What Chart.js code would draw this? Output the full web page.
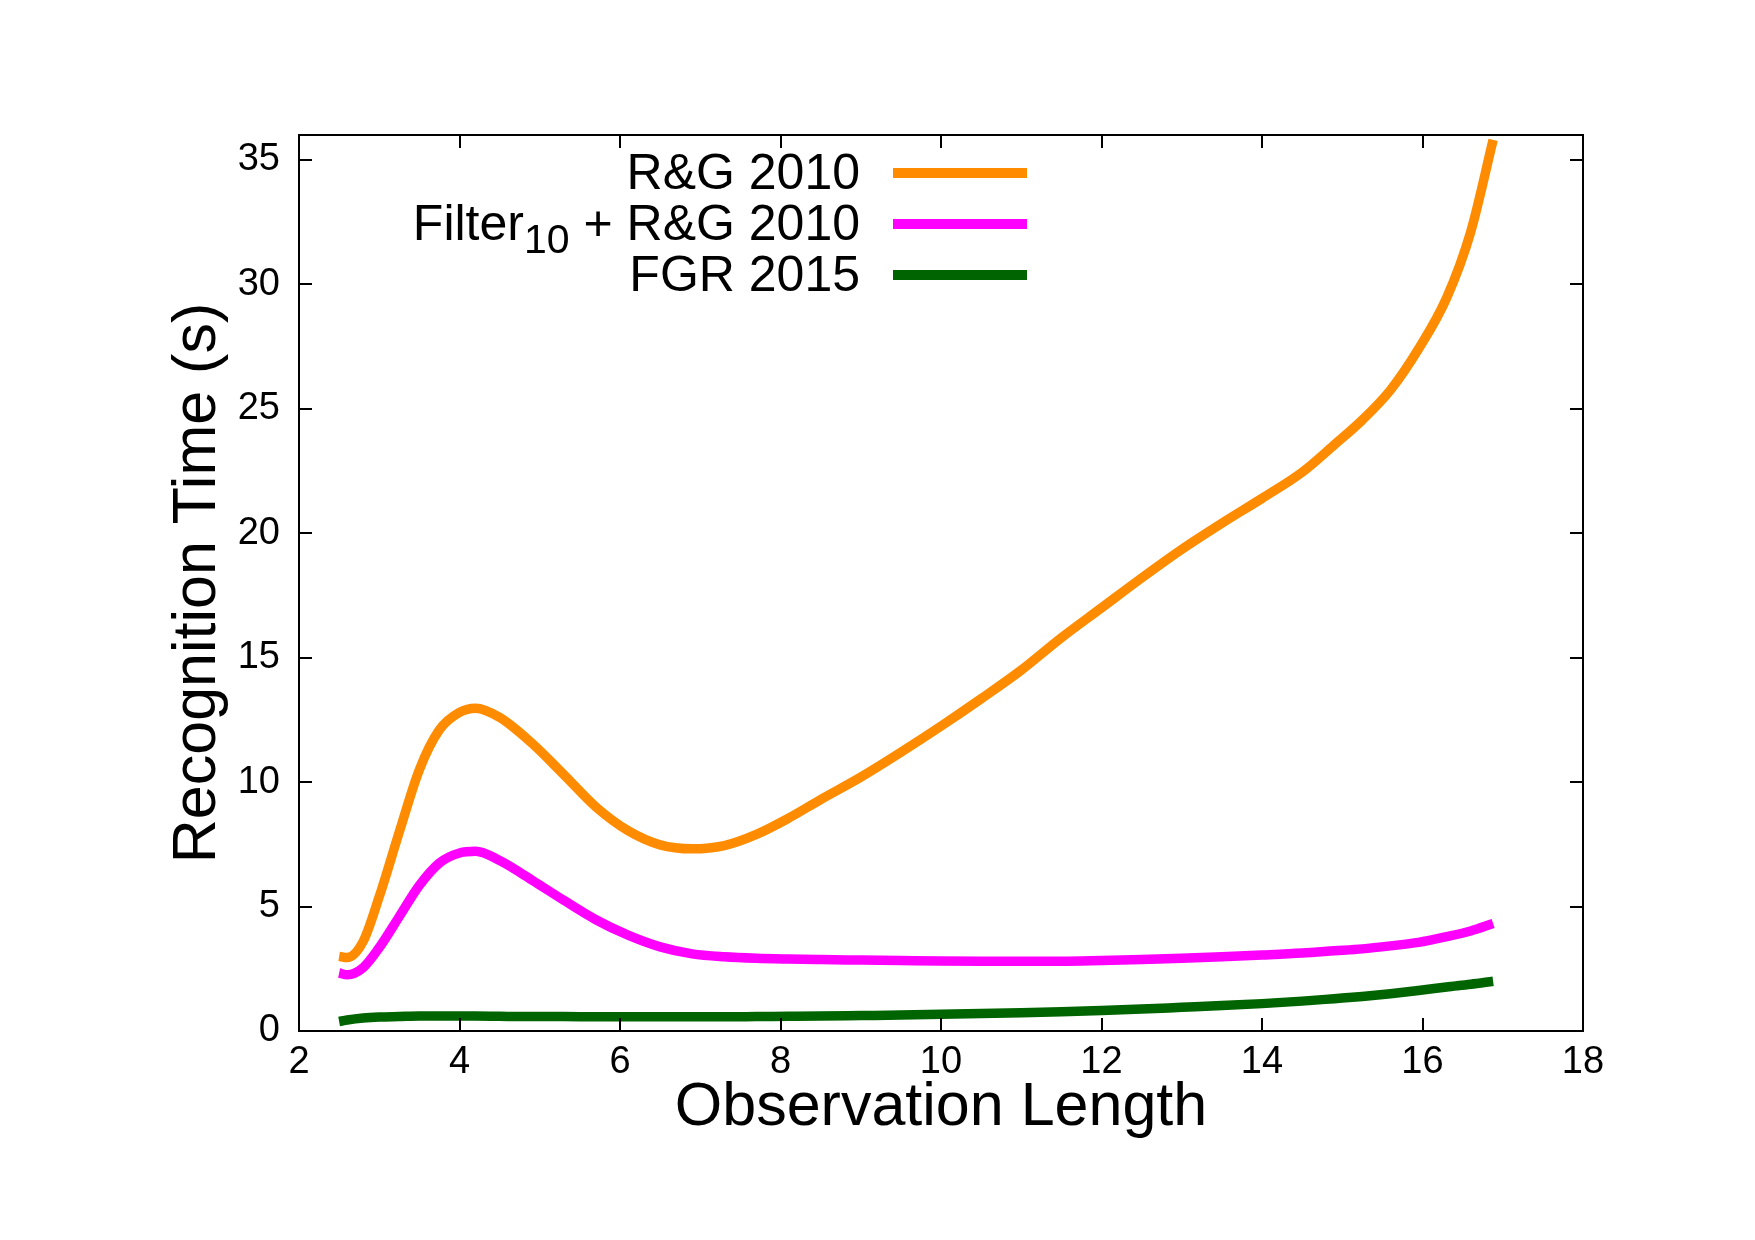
<!DOCTYPE html>
<html>
<head>
<meta charset="utf-8">
<script src="https://cdn.jsdelivr.net/npm/chart.js@4/dist/chart.umd.min.js"></script>
<style>
  html, body { margin: 0; padding: 0; background: #ffffff; }
  #wrap { width: 1755px; height: 1240px; }
  canvas { display: block; }
</style>
</head>
<body>
<div id="wrap"><canvas id="c" width="1755" height="1240"></canvas></div>
<script>
// ---- data ----
const xValues   = [2.5, 2.6, 2.8, 3.0, 3.25, 3.5, 3.75, 4.0, 4.2, 4.5, 4.9, 5.3, 5.7, 6.1, 6.5, 6.9, 7.3, 7.7, 8.1, 8.5, 9.0, 9.5, 10.0, 10.5, 11.0, 11.5, 12.0, 12.5, 13.0, 13.5, 14.0, 14.5, 14.9, 15.25, 15.6, 15.95, 16.3, 16.6, 16.88];
const rg2010    = [3.0, 2.95, 3.6, 5.4, 8.0, 10.5, 12.1, 12.8, 12.97, 12.6, 11.57, 10.3, 9.0, 8.05, 7.48, 7.32, 7.45, 7.9, 8.55, 9.3, 10.2, 11.2, 12.25, 13.35, 14.5, 15.8, 17.0, 18.2, 19.35, 20.4, 21.4, 22.45, 23.55, 24.55, 25.75, 27.4, 29.45, 32.1, 35.8];
const filterRg  = [2.33, 2.26, 2.55, 3.35, 4.6, 5.85, 6.75, 7.15, 7.22, 6.85, 6.07, 5.25, 4.47, 3.85, 3.38, 3.1, 2.98, 2.92, 2.89, 2.87, 2.85, 2.83, 2.81, 2.8, 2.8, 2.8, 2.83, 2.87, 2.92, 2.98, 3.05, 3.13, 3.22, 3.3, 3.42, 3.56, 3.79, 4.02, 4.32];
const fgr2015   = [0.38, 0.44, 0.52, 0.56, 0.58, 0.6, 0.6, 0.6, 0.6, 0.59, 0.58, 0.58, 0.57, 0.57, 0.57, 0.57, 0.57, 0.58, 0.59, 0.6, 0.62, 0.64, 0.67, 0.7, 0.73, 0.77, 0.82, 0.88, 0.95, 1.02, 1.1, 1.2, 1.3, 1.39, 1.5, 1.63, 1.77, 1.88, 2.0];
const seriesLabels = ['R&G 2010', 'Filter_{10} + R&G 2010', 'FGR 2015'];
const seriesColors = ['#ff8c00', '#ff00ff', '#006400'];
const xTicks = [2, 4, 6, 8, 10, 12, 14, 16, 18];
const yTicks = [0, 5, 10, 15, 20, 25, 30, 35];
const xTitle = 'Observation Length';
const yTitle = 'Recognition Time (s)';

const FONT = "'Liberation Sans', Arial, Helvetica, sans-serif";

function toPoints(ys) { return xValues.map((x, i) => ({ x: x, y: ys[i] })); }

const seriesValues = [rg2010, filterRg, fgr2015];
const datasets = seriesValues.map((vals, i) => ({
  label: seriesLabels[i],
  data: toPoints(vals),
  borderColor: seriesColors[i],
  backgroundColor: seriesColors[i],
  borderWidth: 9.5,
  pointRadius: 0,
  fill: false,
  cubicInterpolationMode: 'monotone',
  borderCapStyle: 'butt',
  borderJoinStyle: 'round'
}));

// frame with inward ticks on all four sides
const framePlugin = {
  id: 'frame',
  afterDraw(chart) {
    const ctx = chart.ctx;
    const a = chart.chartArea;
    const xs = chart.scales.x, ys = chart.scales.y;
    const tl = 13;
    ctx.save();
    ctx.strokeStyle = '#000';
    ctx.lineWidth = 2;
    ctx.beginPath();
    xTicks.forEach(v => {
      const p = Math.round(xs.getPixelForValue(v));
      ctx.moveTo(p, a.bottom); ctx.lineTo(p, a.bottom - tl);
      ctx.moveTo(p, a.top); ctx.lineTo(p, a.top + tl);
    });
    yTicks.forEach(v => {
      const p = Math.round(ys.getPixelForValue(v));
      ctx.moveTo(a.left, p); ctx.lineTo(a.left + tl, p);
      ctx.moveTo(a.right, p); ctx.lineTo(a.right - tl, p);
    });
    ctx.stroke();
    ctx.strokeRect(a.left, a.top, a.right - a.left, a.bottom - a.top);
    ctx.restore();
  }
};

// legend with subscript support, text right-aligned left of the sample line
function parseLabel(s) {
  const parts = [];
  const re = /_\{([^}]*)\}/g;
  let last = 0, m;
  while ((m = re.exec(s)) !== null) {
    if (m.index > last) parts.push({ t: s.slice(last, m.index), sub: false });
    parts.push({ t: m[1], sub: true });
    last = re.lastIndex;
  }
  if (last < s.length) parts.push({ t: s.slice(last), sub: false });
  return parts;
}

const legendPlugin = {
  id: 'customLegend',
  afterDraw(chart) {
    const ctx = chart.ctx;
    const textRight = 860;
    const lineX0 = 893, lineX1 = 1027;
    const base0 = 189, rowGap = 51;
    const mainSize = 50, subSize = 41, subDrop = 13;
    ctx.save();
    ctx.textBaseline = 'alphabetic';
    ctx.textAlign = 'left';
    ctx.fillStyle = '#000';
    chart.data.datasets.forEach((ds, i) => {
      const baseline = base0 + i * rowGap;
      const parts = parseLabel(ds.label);
      let total = 0;
      parts.forEach(p => {
        ctx.font = (p.sub ? subSize : mainSize) + 'px ' + FONT;
        p.w = ctx.measureText(p.t).width;
        total += p.w;
      });
      let x = textRight - total;
      parts.forEach(p => {
        ctx.font = (p.sub ? subSize : mainSize) + 'px ' + FONT;
        ctx.fillText(p.t, x, baseline + (p.sub ? subDrop : 0));
        x += p.w;
      });
      ctx.strokeStyle = ds.borderColor;
      ctx.lineWidth = 10;
      ctx.lineCap = 'butt';
      ctx.beginPath();
      const ly = baseline - 16;
      ctx.moveTo(lineX0, ly);
      ctx.lineTo(lineX1, ly);
      ctx.stroke();
    });
    ctx.restore();
  }
};

new Chart(document.getElementById('c'), {
  type: 'line',
  data: { datasets: datasets },
  options: {
    responsive: false,
    animation: false,
    devicePixelRatio: 1,
    layout: { padding: { left: 162, top: 135, right: 172, bottom: 95 } },
    plugins: {
      legend: { display: false },
      tooltip: { enabled: false },
      title: { display: false }
    },
    scales: {
      x: {
        type: 'linear',
        min: 2, max: 18,
        afterBuildTicks(scale) { scale.ticks = xTicks.map(v => ({ value: v })); },
        afterFit(scale) { scale.height = 114; },
        grid: { display: false, drawTicks: false },
        border: { display: false },
        ticks: {
          padding: 9,
          color: '#000',
          font: { family: FONT, size: 38 },
          maxRotation: 0,
          autoSkip: false
        },
        title: {
          display: true,
          text: xTitle,
          color: '#000',
          font: { family: FONT, size: 61 },
          padding: 0
        }
      },
      y: {
        type: 'linear',
        min: 0, max: 36,
        afterBuildTicks(scale) { scale.ticks = yTicks.map(v => ({ value: v })); },
        afterFit(scale) { scale.width = 137; },
        grid: { display: false, drawTicks: false },
        border: { display: false },
        ticks: {
          padding: 19,
          color: '#000',
          font: { family: FONT, size: 38 },
          autoSkip: false
        },
        title: {
          display: true,
          text: yTitle,
          color: '#000',
          font: { family: FONT, size: 61 },
          padding: 0
        }
      }
    }
  },
  plugins: [framePlugin, legendPlugin]
});
</script>
</body>
</html>
